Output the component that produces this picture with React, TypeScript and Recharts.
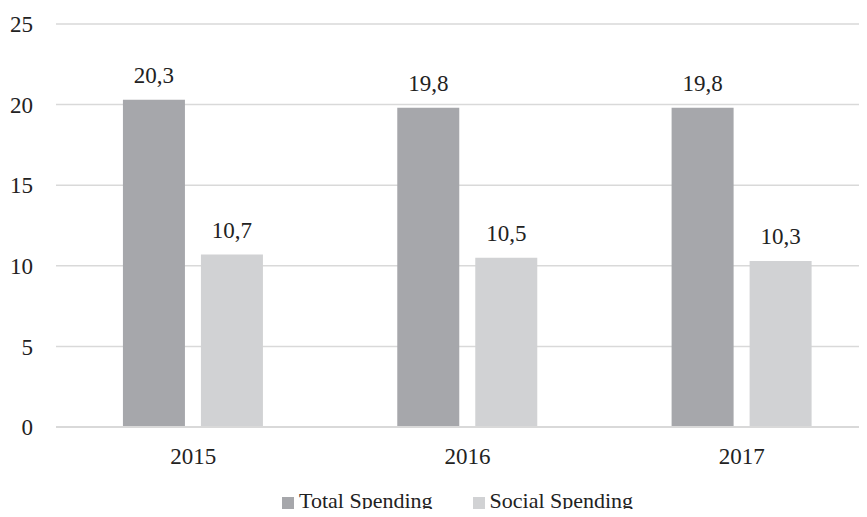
import { BarChart, Bar, XAxis, YAxis, CartesianGrid, LabelList } from "recharts";

const years = ["2015", "2016", "2017"];
const totalSpending = [20.3, 19.8, 19.8];
const socialSpending = [10.7, 10.5, 10.3];
const yTicks = [0, 5, 10, 15, 20, 25];

const data = years.map((year, i) => ({
  year,
  total: totalSpending[i],
  social: socialSpending[i],
}));

const font = "'Liberation Serif', 'Times New Roman', serif";
const fmt = (v: number) => String(v).replace(".", ",");

const legendItems = [
  { label: "Total Spending", color: "#a6a7ab" },
  { label: "Social Spending", color: "#d1d2d4" },
];

function LegendBox() {
  return (
    <div
      style={{
        position: "absolute",
        left: 282,
        top: 488,
        display: "flex",
        alignItems: "center",
        fontFamily: font,
        fontSize: 22,
        lineHeight: "25px",
        color: "#222",
        whiteSpace: "nowrap",
      }}
    >
      {legendItems.map((it, i) => (
        <div key={it.label} style={{ display: "flex", alignItems: "center", marginRight: i === 0 ? 40 : 0 }}>
          <span style={{ display: "inline-block", width: 12, height: 12, background: it.color, marginRight: 5, marginTop: 4 }} />
          <span>{it.label}</span>
        </div>
      ))}
    </div>
  );
}

export default function App() {
  return (
    <div style={{ position: "relative", margin: -8, width: 867, height: 517, overflow: "hidden", background: "#fff" }}>
      <BarChart
        width={890}
        height={517}
        data={data}
        margin={{ top: 24, right: 11, bottom: 0, left: 0 }}
        barCategoryGap="24.4%"
        barGap={16}
      >
        <CartesianGrid vertical={false} stroke="#d9d9d9" strokeWidth={1.5} />
        <XAxis
          dataKey="year"
          height={90}
          axisLine={{ stroke: "#d9d9d9", strokeWidth: 2 }}
          tickLine={false}
          tickSize={0}
          tickMargin={21}
          tick={{ fill: "#222", fontSize: 23, fontFamily: font }}
        />
        <YAxis
          width={56}
          domain={[0, 25]}
          ticks={yTicks}
          axisLine={false}
          tickLine={false}
          tickSize={0}
          tickMargin={23}
          tick={{ fill: "#222", fontSize: 23, fontFamily: font }}
        />
        <Bar dataKey="total" name="Total Spending" fill="#a6a7ab" isAnimationActive={false}>
          <LabelList dataKey="total" position="top" offset={17} formatter={fmt} fill="#222" fontSize={23} fontFamily={font} />
        </Bar>
        <Bar dataKey="social" name="Social Spending" fill="#d1d2d4" isAnimationActive={false}>
          <LabelList dataKey="social" position="top" offset={17} formatter={fmt} fill="#222" fontSize={23} fontFamily={font} />
        </Bar>
      </BarChart>
      <LegendBox />
    </div>
  );
}
